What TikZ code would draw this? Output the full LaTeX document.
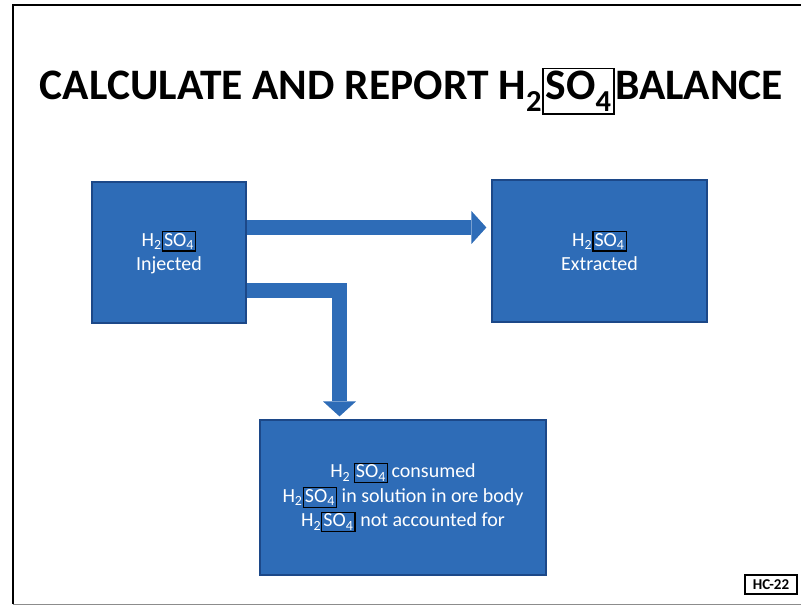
\documentclass[tikz,border=0pt]{standalone}
\usepackage{fontspec}
\setmainfont{Carlito}
\usetikzlibrary{arrows.meta}
\definecolor{slideblue}{RGB}{46,108,183}
\definecolor{slideedge}{RGB}{28,72,136}
\newcommand{\sobox}{{\setlength{\fboxsep}{1pt}\setlength{\fboxrule}{1.3pt}\fcolorbox{black}{slideblue}{SO\textsubscript{4}}}}
\begin{document}
\begin{tikzpicture}[
    x=1pt,y=1pt,
    every node/.style={font=\fontsize{20}{24.5}\selectfont},
    block/.style={draw=slideedge, line width=1.2pt, fill=slideblue, text=white, align=center},
    flow/.style={draw=slideblue, line width=15pt, -{Triangle[width=33pt,length=15pt,line width=0pt]}}
]
    \useasboundingbox (0,0) rectangle (801,606);
    % page frame
    \draw[line width=2pt] (13,2) -- (13,601) -- (801,601);
    \draw[line width=1pt, black!45] (13,2) -- (801,2);

    \node[anchor=base, font=\fontsize{43.5}{48}\selectfont\bfseries] (title) at (411.5,506)
        {CALCULATE AND REPORT H\textsubscript{2}{\setlength{\fboxsep}{2pt}\setlength{\fboxrule}{1.6pt}\fbox{SO\textsubscript{4}}}BALANCE};

    \node[block, minimum width=154pt, minimum height=141pt] (inj) at (169,353.5) {H\textsubscript{2}\sobox\\Injected};
    \node[block, minimum width=215pt, minimum height=142pt] (ext) at (599.5,355) {H\textsubscript{2}\sobox\\Extracted};
    \node[block, minimum width=286pt, minimum height=155pt] (rest) at (403,108.5)
        {H\textsubscript{2}\,\sobox\,consumed\\H\textsubscript{2}\sobox\ in solution in ore body\\H\textsubscript{2}\sobox\ not accounted for};

    \draw[flow, shorten >=5pt] ([yshift=25pt]inj.east) -- ([yshift=25pt]inj.east -| ext.west);
    \draw[flow, shorten >=3pt] ([yshift=-38pt]inj.east) -| ([xshift=-63.5pt]rest.north);

    \node[draw, line width=1.2pt, inner sep=0pt, minimum width=52pt, minimum height=19pt,
        font=\fontsize{15}{17}\selectfont\bfseries] (tag) at (771,21.5) {HC-22};
\end{tikzpicture}
\end{document}
